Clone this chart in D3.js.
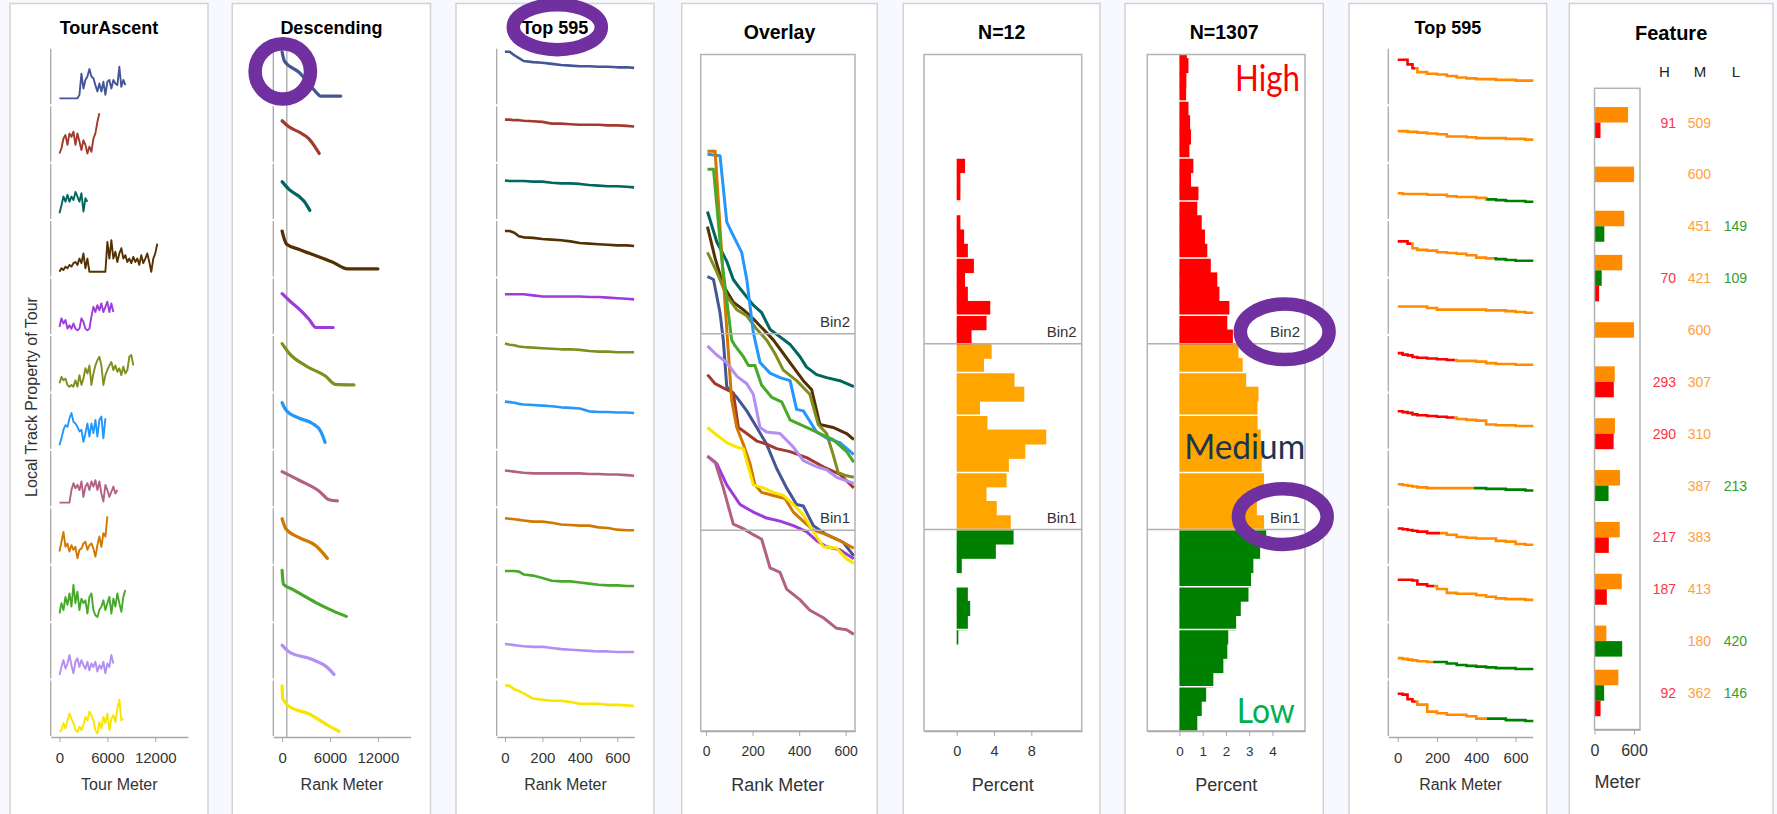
<!DOCTYPE html>
<html>
<head>
<meta charset="utf-8">
<script src="https://cdn.jsdelivr.net/npm/d3@7"></script>
<style>
  body { margin: 0; background: #f8f9fe; }
  svg { display: block; }
</style>
</head>
<body>
<svg id="chart"></svg>
<script>
// ---------- data ----------
const tourColors = ["#445694", "#A23A2E", "#01665E", "#543005", "#9D3CDB", "#7F8E1F",
                    "#2597FA", "#B26084", "#D17800", "#47A82A", "#B38EF3", "#F9E500"]

// local track property along each tour, one value every 250 m
const ascentStep = 250
const asc1 = [12,12,12,12,12,12,12,12,12,12,18,55,29,44,50,63,50,47,35,24,38,24,41,18,41,44,29,44,38,35,67,32,44,35]
const asc2 = [16,25,42,48,31,51,45,54,31,51,37,22,39,31,16,28,19,42,51,71,86]
const asc3 = [12,26,41,32,44,32,41,35,49,41,32,47,15,38,32]
const asc4 = [10,16,13,19,16,22,19,25,27,22,33,25,42,16,33,10,10,10,10,10,10,10,10,10,62,33,65,33,45,27,42,51,33,39,27,33,25,36,27,33,22,39,25,33,42,27,10,33,42,59]
const asc5 = [14,29,20,26,11,17,11,20,11,8,11,29,23,11,8,11,32,49,40,52,43,55,40,49,58,40,55,40]
const asc6 = [16,27,21,24,13,10,13,10,21,10,30,13,24,42,33,47,13,33,47,56,62,47,13,30,39,47,53,39,47,36,42,30,45,33,39,62,65,47]
const asc7 = [8,20,35,43,40,55,64,49,46,40,32,35,14,29,46,23,46,29,52,23,52,58,20,55]
const asc8 = [8,8,8,8,8,8,30,42,33,39,30,45,18,36,42,30,45,36,47,30,45,24,10,39,30,18,27,36,24,30]
const asc9 = [23,40,57,31,37,23,34,26,31,11,26,28,37,40,26,34,37,28,14,34,49,31,55,49,84]
const asc10 = [15,33,21,44,30,50,27,65,33,53,21,41,33,38,15,44,50,21,12,9,21,27,38,21,33,44,15,41,27,50,33,18,44,56]
const asc11 = [8,22,34,19,28,43,25,11,31,37,22,34,25,19,31,16,28,22,31,14,25,19,31,11,28,22,43,28]
const asc12 = [9,12,24,15,29,41,32,24,12,9,18,12,21,35,29,44,38,29,12,6,26,15,35,24,41,12,32,38,26,50,65,29,32]
const ascent = [asc1, asc2, asc3, asc4, asc5, asc6, asc7, asc8, asc9, asc10, asc11, asc12]

// descending profile: [rank meter, value]
const desc1 = [[0,93],[290,77],[2160,57],[3300,39],[4440,20],[4800,16],[7350,16]]
const desc2 = [[0,73],[900,62],[2150,53],[3400,41],[4000,30],[4650,16]]
const desc3 = [[0,67],[900,53],[2150,41],[2800,32],[3480,17]]
const desc4 = [[0,81],[170,72],[580,58],[2150,49],[4230,38],[6300,27],[8200,15],[12000,15]]
const desc5 = [[0,72],[900,60],[2150,45],[3400,27],[4230,13],[6400,13]]
const desc6 = [[0,85],[900,68],[3000,46],[5470,28],[6700,14],[9000,13]]
const desc7 = [[0,82],[500,69],[2150,55],[3800,46],[4850,32],[5390,13]]
const desc8 = [[0,62],[2150,47],[4650,28],[5900,13],[6930,11]]
const desc9 = [[0,80],[500,62],[2150,47],[4230,33],[5680,11]]
const desc10 = [[0,90],[170,66],[1320,57],[4230,34],[6300,20],[8050,10]]
const desc11 = [[0,60],[900,48],[3800,35],[5680,21],[6510,9]]
const desc12 = [[0,89],[80,67],[900,53],[3400,40],[5900,19],[7130,10]]
const descending = [desc1, desc2, desc3, desc4, desc5, desc6, desc7, desc8, desc9, desc10, desc11, desc12]

// top ~600 m of the descending profile
const topRanks = [0,25,50,75,100,150,200,250,300,350,400,450,500,550,600,650,690]
const top1 = [93,93,87,82,77,75,74,72,70,69,68,68,67,67,66,66,65]
const top2 = [75,75,74,74,73,72,71,68,68,67,66,66,66,65,65,64,63]
const top3 = [69,68,68,68,68,67,67,65,64,64,63,61,60,59,59,58,57]
const top4 = [81,81,78,72,70,69,67,66,65,63,60,59,58,57,56,56,55]
const top5 = [71,71,71,71,71,69,67,67,67,67,67,66,66,65,64,63,62]
const top6 = [85,83,82,80,79,78,77,76,75,75,74,72,71,71,70,70,70]
const top7 = [84,83,82,80,79,78,77,76,74,73,72,67,66,66,65,65,64]
const top8 = [64,63,62,61,60,59,59,59,59,59,59,58,58,57,57,56,55]
const top9 = [81,80,79,78,77,75,75,73,70,69,68,68,65,64,61,60,60]
const top10 = [89,89,89,88,83,81,77,72,71,71,69,67,65,64,64,63,63]
const top11 = [62,61,60,59,58,57,57,55,53,52,51,50,49,49,48,48,48]
const top12 = [90,89,83,80,76,67,65,63,63,61,58,58,58,56,56,55,54]
const top595 = [top1, top2, top3, top4, top5, top6, top7, top8, top9, top10, top11, top12]

// overlay on a common scale: [rank meter, value]
const overlay1 = [[6,31.8],[32,31.6],[60,29.4],[74,27.6],[89,24.5],[132,23.8],[175,22.9],[218,21.8],[260,20.7],[303,19.1],[346,17.8],[389,16.7],[418,16.6],[461,15.3],[518,14.7],[589,14.2],[635,13.3]]
const overlay2 = [[6,25.3],[39,24.7],[89,24.3],[117,24.1],[139,21.8],[175,21.4],[218,20.9],[260,20.7],[303,20.4],[361,20.2],[432,19.8],[504,19.2],[575,18.7],[635,17.8]]
const overlay3 = [[6,36.1],[46,34.1],[89,32.8],[117,31.6],[146,31.0],[203,29.9],[239,29.4],[275,28.3],[318,27.8],[361,27.3],[403,26.5],[432,25.8],[475,25.3],[518,25.1],[575,24.9],[635,24.5]]
const overlay4 = [[6,35.1],[39,33.0],[74,31.2],[117,30.1],[160,29.6],[203,29.0],[246,28.3],[289,27.6],[332,26.7],[375,25.8],[418,24.9],[454,24.3],[489,22.0],[546,21.8],[604,21.4],[635,21.0]]
const overlay5 = [[6,19.9],[46,19.4],[89,18.0],[146,16.7],[203,16.2],[260,15.8],[318,15.6],[375,15.3],[432,14.9],[475,14.3],[518,13.9],[575,13.7],[635,13.1]]
const overlay6 = [[6,33.4],[46,32.1],[89,30.5],[132,29.6],[175,29.2],[218,28.3],[260,27.6],[296,26.7],[332,25.6],[389,24.9],[446,24.0],[482,22.0],[518,21.4],[546,20.0],[568,18.8],[604,18.6],[635,18.5]]
const overlay7 = [[6,39.9],[60,39.8],[89,35.4],[117,34.5],[153,33.4],[175,31.6],[203,28.1],[232,26.1],[275,25.4],[318,25.1],[361,24.9],[389,23.0],[418,22.9],[475,21.5],[518,21.1],[575,20.8],[635,20.0]]
const overlay8 = [[6,19.9],[39,19.5],[74,17.8],[117,15.4],[160,15.1],[203,14.7],[239,14.4],[275,12.5],[318,12.2],[346,11.1],[403,10.4],[446,9.7],[504,9.2],[561,8.5],[604,8.4],[635,8.1]]
const overlay9 = [[6,40.1],[39,40.1],[74,31.7],[110,23.6],[132,21.8],[160,20.7],[189,19.4],[210,18.0],[239,17.5],[289,17.3],[339,17.1],[375,16.2],[403,15.8],[461,15.0],[518,14.7],[575,14.3],[635,13.8]]
const overlay10 = [[6,38.9],[32,38.9],[67,33.0],[110,27.6],[125,27.2],[160,26.5],[182,25.9],[210,25.9],[239,24.6],[282,23.8],[325,23.5],[361,22.3],[403,22.0],[446,21.7],[489,21.4],[546,21.0],[604,20.2],[635,19.5]]
const overlay11 = [[6,27.2],[46,26.6],[89,26.1],[132,25.2],[175,24.7],[203,24.0],[232,21.8],[260,21.5],[318,21.4],[375,20.5],[418,19.6],[475,19.2],[518,19.0],[561,18.5],[635,18.1]]
const overlay12 = [[6,21.8],[46,21.3],[89,20.8],[132,20.5],[160,20.4],[203,18.0],[246,17.8],[289,17.5],[332,17.3],[375,16.7],[418,16.0],[461,14.9],[504,13.9],[561,13.8],[604,13.1],[635,12.8]]
const overlays = [overlay1, overlay2, overlay3, overlay4, overlay5, overlay6, overlay7, overlay8, overlay9, overlay10, overlay11, overlay12]

// thresholds
const bin1Value = 15
const bin2Value = 28

// histograms: lower edge of each bin and percent
const binLow = [0,1,2,3,4,5,6,7,8,9,10,11,12,13,14,15,16,17,18,19,20,21,22,23,24,25,26,27,28,29,30,31,32,33,34,35,36,37,38,39,40,41,42,43,44,45,46,47,48]
const pct12 = [0,0,0,0,0,0,0,0.18,1.2,1.45,1.2,0,0.55,4.2,6.1,5.8,4.3,3.2,5.35,5.6,7.35,9.6,3.3,2.5,7.25,6.2,2.93,3.75,1.6,3.2,3.6,1.2,0.9,1.85,1.2,0.8,0.4,0,0.4,0.4,0.9,0,0,0,0,0,0,0,0]
const pct1307 = [0.72,0.77,0.96,1.15,1.46,1.89,2.06,2.1,2.44,2.64,2.97,3.08,3.18,3.47,3.73,3.64,3.33,3.22,3.64,3.54,3.58,3.5,3.36,3.36,3.4,2.87,2.72,2.54,2.3,2.06,2.15,1.72,1.63,1.35,1.2,1.1,0.96,0.77,0.82,0.5,0.6,0.43,0.5,0.46,0.39,0.29,0.3,0.39,0.32]
const histGrid = [4, 8, 11, 15, 19, 23, 26, 30, 34, 38, 41, 45]

// meters in each class (High / Medium / Low), null = none
const featH = [91, null, null, 70, null, 293, 290, null, 217, 187, null, 92]
const featM = [509, 600, 451, 421, 600, 307, 310, 387, 383, 413, 180, 362]
const featL = [null, null, 149, 109, null, null, null, 213, null, null, 420, 146]

const classColor = {H: "#FF0000", M: "#FF8C00", L: "#008000"}
const histColor = {H: "#FF0000", M: "#FFA500", L: "#008000"}
const labelColor = {H: "#FF3344", M: "#FFA040", L: "#2EA02E"}

// ---------- layout ----------
const width = 1777, height = 814
const font = "'Liberation Sans', Arial, Helvetica, sans-serif"
const axisColor = "#a8a8a8"
const frameColor = "#b4b4b4"
const latticeTop = 47.8, latticeBottom = 737
const rowH = (latticeBottom - latticeTop) / 12
const rowTop = i => latticeTop + i * rowH
const frameTop = 54.5, frameBottom = 731

const svg = d3.select('#chart').attr('width', width).attr('height', height)
const defs = svg.append('defs')

const panelBoxes = [[10,208],[232.3,430.5],[456,654],[681.7,877.3],[903.3,1100],[1125,1323.3],[1349,1546.7],[1569.3,1773]]
const panelTitles = ["TourAscent", "Descending", "Top 595", "Overlay", "N=12", "N=1307", "Top 595", "Feature"]
const titleSize = [18, 18, 18, 19.5, 19.5, 19.5, 18, 20]
const titleY = [33.5, 33.5, 33.5, 39, 39, 39, 33.5, 39.5]

panelBoxes.forEach((b, i) => {
    svg.append('rect')
        .attr('x', b[0]).attr('y', 3.5)
        .attr('width', b[1] - b[0]).attr('height', height)
        .attr('fill', '#fff').attr('stroke', '#d2d2d2').attr('stroke-width', 1.5)
    svg.append('text')
        .attr('x', (b[0] + b[1]) / 2).attr('y', titleY[i])
        .attr('text-anchor', 'middle')
        .attr('font-family', font).attr('font-weight', 'bold')
        .attr('font-size', titleSize[i]).attr('fill', '#000')
        .text(panelTitles[i])
})

// HELPERS
function rowAxis(x) {
    for (let i = 0; i < 12; i++) {
        svg.append('line')
            .attr('x1', x).attr('x2', x)
            .attr('y1', rowTop(i) + 1).attr('y2', rowTop(i) + rowH - 1)
            .attr('stroke', axisColor).attr('stroke-width', 1.3)
    }
}

function bottomAxis(scale, y, ticks, size) {
    const g = svg.append('g')
        .attr('transform', `translate(0,${y})`)
        .call(d3.axisBottom(scale).tickValues(ticks).tickSize(5).tickSizeOuter(0)
            .tickPadding(10).tickFormat(d3.format('d')))
    g.attr('font-family', font).attr('font-size', size)
    g.select('.domain').attr('stroke', axisColor).attr('stroke-width', 1.3)
    g.selectAll('.tick line').attr('stroke', axisColor)
    g.selectAll('.tick text').attr('fill', '#333')
    return g
}

function axisLabel(text, x, y, size) {
    svg.append('text')
        .attr('x', x).attr('y', y)
        .attr('text-anchor', 'middle')
        .attr('font-family', font).attr('font-size', size).attr('fill', '#333')
        .text(text)
}

function frame(x0, x1, y0, y1) {
    svg.append('rect')
        .attr('x', x0).attr('y', y0).attr('width', x1 - x0).attr('height', y1 - y0)
        .attr('fill', 'none').attr('stroke', frameColor).attr('stroke-width', 1.5)
}

function clip(id, x0, x1, y0, y1) {
    defs.append('clipPath').attr('id', id)
        .append('rect').attr('x', x0).attr('y', y0).attr('width', x1 - x0).attr('height', y1 - y0)
    return `url(#${id})`
}

const yRow = d3.scaleLinear().domain([0, 100]).range([rowH, 0])

// PANEL 1: TOUR ASCENT
const xAsc = d3.scaleLinear().domain([-1100, 16100]).range([50.7, 188])
ascent.forEach((vals, i) => {
    const line = d3.line()
        .x((d, k) => xAsc(k * ascentStep))
        .y(d => rowTop(i) + yRow(d))
    svg.append('path')
        .attr('d', line(vals))
        .attr('fill', 'none').attr('stroke', tourColors[i])
        .attr('stroke-width', 1.9).attr('stroke-linejoin', 'round')
})
rowAxis(50.7)
bottomAxis(xAsc, latticeBottom, [0, 6000, 12000], 15)
axisLabel("Tour Meter", (50.7 + 188) / 2, 790, 16)
svg.append('text')
    .attr('transform', 'translate(37,397) rotate(-90)')
    .attr('text-anchor', 'middle')
    .attr('font-family', font).attr('font-size', 16).attr('fill', '#333')
    .text("Local Track Property of Tour")

// PANEL 2: DESCENDING
const xDesc = d3.scaleLinear().domain([-1100, 16100]).range([273.3, 410.6])
svg.append('line')
    .attr('x1', xDesc(595)).attr('x2', xDesc(595))
    .attr('y1', latticeTop).attr('y2', latticeBottom)
    .attr('stroke', axisColor).attr('stroke-width', 1.3)
descending.forEach((pts, i) => {
    const line = d3.line()
        .curve(d3.curveMonotoneX)
        .x(d => xDesc(d[0]))
        .y(d => rowTop(i) + yRow(d[1]))
    svg.append('path')
        .attr('d', line(pts))
        .attr('fill', 'none').attr('stroke', tourColors[i])
        .attr('stroke-width', 3.2).attr('stroke-linecap', 'round')
})
rowAxis(273.3)
bottomAxis(xDesc, latticeBottom, [0, 6000, 12000], 15)
axisLabel("Rank Meter", (273.3 + 410.6) / 2, 790, 16)

// PANEL 3: TOP 595
const xTop = d3.scaleLinear().domain([-44, 691]).range([496.7, 634.3])
top595.forEach((vals, i) => {
    const line = d3.line()
        .x((d, k) => xTop(topRanks[k]))
        .y(d => rowTop(i) + yRow(d))
    svg.append('path')
        .attr('d', line(vals))
        .attr('fill', 'none').attr('stroke', tourColors[i])
        .attr('stroke-width', 2.6).attr('stroke-linejoin', 'round')
})
rowAxis(496.7)
bottomAxis(xTop, latticeBottom, [0, 200, 400, 600], 15)
axisLabel("Rank Meter", (496.7 + 634.3) / 2, 790, 16)

// PANEL 4: OVERLAY
const xOv = d3.scaleLinear().domain([-23, 640]).range([700.7, 855])
const yOv = d3.scaleLinear().domain([1.7, 46.5]).range([frameBottom, frameTop])
const ovClip = clip('clipOv', 700.7, 855, frameTop, frameBottom)
overlays.forEach((pts, i) => {
    const line = d3.line().x(d => xOv(d[0])).y(d => yOv(d[1]))
    svg.append('path')
        .attr('d', line(pts))
        .attr('clip-path', ovClip)
        .attr('fill', 'none').attr('stroke', tourColors[i])
        .attr('stroke-width', 3).attr('stroke-linejoin', 'round')
})

function binLines(yScale, x0, x1) {
    [[bin2Value, "Bin2"], [bin1Value, "Bin1"]].forEach(([v, name]) => {
        svg.append('line')
            .attr('x1', x0).attr('x2', x1)
            .attr('y1', yScale(v)).attr('y2', yScale(v))
            .attr('stroke', '#b0b0b0').attr('stroke-width', 1.5)
        svg.append('text')
            .attr('x', x1 - 5).attr('y', yScale(v) - 7)
            .attr('text-anchor', 'end')
            .attr('font-family', font).attr('font-size', 15).attr('fill', '#333')
            .text(name)
    })
}
binLines(yOv, 700.7, 855)
frame(700.7, 855, frameTop, frameBottom)
bottomAxis(xOv, frameBottom, [0, 200, 400, 600], 14)
axisLabel("Rank Meter", (700.7 + 855) / 2, 790.5, 18)

// PANELS 5 & 6: HISTOGRAMS
const yHist = d3.scaleLinear().domain([0.9, 48.25]).range([frameBottom, frameTop])
const binClass = b => b >= bin2Value ? 'H' : b >= bin1Value ? 'M' : 'L'

function histogram(pcts, xScale, x0, x1, id, ticks, tickSize) {
    const cp = clip(id, x0, x1, frameTop, frameBottom)
    // slight overlap so neighbouring bars do not leave seams
    svg.append('g').attr('clip-path', cp)
        .selectAll('rect')
        .data(binLow.filter((b, k) => pcts[k] > 0))
        .join('rect')
        .attr('x', xScale(0))
        .attr('y', b => yHist(b + 1))
        .attr('width', b => xScale(pcts[binLow.indexOf(b)]) - xScale(0))
        .attr('height', b => yHist(b) - yHist(b + 1) + 0.7)
        .attr('fill', b => histColor[binClass(b)])
    svg.append('g')
        .selectAll('line')
        .data(histGrid)
        .join('line')
        .attr('x1', x0 + 1).attr('x2', x1 - 1)
        .attr('y1', d => yHist(d)).attr('y2', d => yHist(d))
        .attr('stroke', '#fff').attr('stroke-width', 1.5)
    binLines(yHist, x0, x1)
    frame(x0, x1, frameTop, frameBottom)
    bottomAxis(xScale, frameBottom, ticks, tickSize)
    axisLabel("Percent", (x0 + x1) / 2, 790.5, 18)
}

const xN12 = d3.scaleLinear().domain([-3.5, 13.4]).range([924, 1081.7])
histogram(pct12, xN12, 924, 1081.7, 'clipN12', [0, 4, 8], 14.5)

const xN1307 = d3.scaleLinear().domain([-1.38, 5.4]).range([1147.3, 1305])
histogram(pct1307, xN1307, 1147.3, 1305, 'clipN1307', [0, 1, 2, 3, 4], 13.5)

// annotations on N=1307
const annot = [["High", 1267.5, 90.9, 36, 65, "#FF0000"],
               ["Medium", 1244.7, 458.5, 35, 121, "#1a3552"],
               ["Low", 1265.8, 722.7, 34, 58, "#00B050"]]
annot.forEach(([t, x, y, s, len, c]) => {
    svg.append('text')
        .attr('x', x).attr('y', y)
        .attr('text-anchor', 'middle')
        .attr('font-family', "Lato, 'Open Sans', sans-serif")
        .attr('font-size', s).attr('fill', c)
        .attr('textLength', len).attr('lengthAdjust', 'spacingAndGlyphs')
        .text(t)
})

// PANEL 7: TOP 595 COLOURED BY CLASS
const xTop2 = d3.scaleLinear().domain([-48, 687]).range([1388.3, 1532.7])
const yRow7 = d3.scaleLinear().domain([0, 100]).range([84, 6.5])
const rankEnd = topRanks[topRanks.length - 1]

function stepAt(vals, r) {
    let idx = 0
    topRanks.forEach((t, k) => { if (t <= r) idx = k })
    return vals[idx]
}

top595.forEach((vals, i) => {
    const h = featH[i] || 0, m = featM[i], l = featL[i] || 0
    const segs = []
    if (h) segs.push({c: 'H', a: 0, b: h})
    segs.push({c: 'M', a: h, b: l ? h + m : rankEnd})
    if (l) segs.push({c: 'L', a: h + m, b: rankEnd})
    segs.forEach(s => {
        const pts = [[s.a, stepAt(vals, s.a)]]
        topRanks.forEach((t, k) => { if (t > s.a && t < s.b) pts.push([t, vals[k]]) })
        pts.push([s.b, stepAt(vals, s.b - 0.001)])
        const line = d3.line()
            .curve(d3.curveStepAfter)
            .x(d => xTop2(d[0]))
            .y(d => rowTop(i) + yRow7(d[1]))
        svg.append('path')
            .attr('d', line(pts))
            .attr('fill', 'none').attr('stroke', classColor[s.c])
            .attr('stroke-width', 2.6)
    })
})
rowAxis(1388.3)
bottomAxis(xTop2, latticeBottom, [0, 200, 400, 600], 15)
axisLabel("Rank Meter", (1388.3 + 1532.7) / 2, 790, 16)

// PANEL 8: FEATURE
const tourIdx = featM.map((d, i) => i)
const fy = d3.scaleBand().domain(tourIdx).range([96.6, 718.9])
const fx = d3.scaleLinear().domain([0, 690]).range([1594.5, 1640])
const barT = 15.5

tourIdx.forEach(i => {
    const bars = [['M', featM[i]], ['L', featL[i]], ['H', featH[i]]].filter(d => d[1])
    const c = fy(i) + fy.bandwidth() / 2
    const y0 = c - bars.length * barT / 2
    bars.forEach(([k, v], j) => {
        svg.append('rect')
            .attr('x', fx(0)).attr('y', y0 + j * barT)
            .attr('width', fx(v) - fx(0)).attr('height', barT)
            .attr('fill', classColor[k])
    })
    const labs = [['H', featH[i], 1676], ['M', featM[i], 1711], ['L', featL[i], 1747]]
    labs.forEach(([k, v, x]) => {
        if (!v) return
        svg.append('text')
            .attr('x', x).attr('y', c + 5)
            .attr('text-anchor', 'end')
            .attr('font-family', font).attr('font-size', 14)
            .attr('fill', labelColor[k])
            .text(v)
    })
})
;[['H', 1664.3], ['M', 1700], ['L', 1736]].forEach(([t, x]) => {
    svg.append('text')
        .attr('x', x).attr('y', 76.5)
        .attr('text-anchor', 'middle')
        .attr('font-family', font).attr('font-size', 15).attr('fill', '#222')
        .text(t)
})
frame(1594.5, 1640, 88.3, 729.5)
bottomAxis(fx, 729.5, [0, 600], 16)
axisLabel("Meter", 1617.5, 788, 18)

// PURPLE CALL-OUT RINGS
const rings = [[282.8, 71.4, 27.7, 27.6], [557.3, 27.2, 44, 22.5],
               [1284.7, 331.8, 44.4, 27.8], [1282.8, 516.6, 44.4, 27.8]]
rings.forEach(([cx, cy, rx, ry]) => {
    svg.append('ellipse')
        .attr('cx', cx).attr('cy', cy).attr('rx', rx).attr('ry', ry)
        .attr('fill', 'none').attr('stroke', '#7030A0').attr('stroke-width', 13.5)
})
</script>
</body>
</html>
